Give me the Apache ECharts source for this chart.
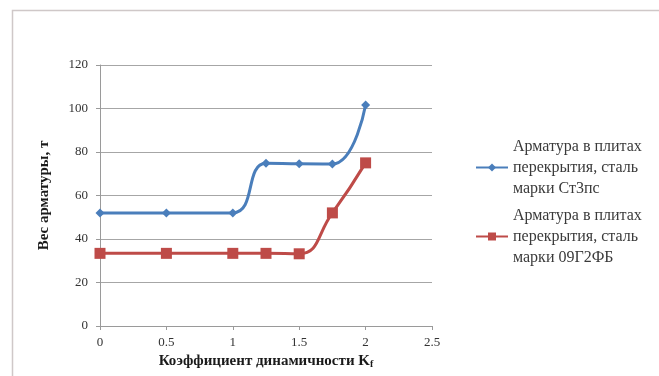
<!DOCTYPE html>
<html>
<head>
<meta charset="utf-8">
<script src="https://cdn.jsdelivr.net/npm/echarts@6/dist/echarts.min.js"></script>
<style>
html,body{margin:0;padding:0;background:#fff;}
#container{width:659px;height:376px;}
</style>
</head>
<body>
<div id="container"></div>
<script>
// коэффициент динамичности
var kf = [0, 0.5, 1, 1.25, 1.5, 1.75, 2];
// вес арматуры, т
var st3ps = [52, 52, 52, 74.8, 74.6, 74.5, 101.6];
var g2fb = [33.4, 33.4, 33.4, 33.4, 33.2, 52, 75];
var names = [
    'Арматура в плитах\nперекрытия, сталь\nмарки Ст3пс',
    'Арматура в плитах\nперекрытия, сталь\nмарки 09Г2ФБ'
];

function pairs(xs, ys) {
    var res = [];
    for (var i = 0; i < xs.length; i++) {
        res.push([xs[i], ys[i]]);
    }
    return res;
}

var dom = document.getElementById("container");
var myChart = echarts.init(dom);
var serif = '"Liberation Serif", "DejaVu Serif", serif';

var option = {
    backgroundColor: '#fff',
    animation: false,
    graphic: [{
        type: 'rect',
        left: 10, top: 8,
        shape: {width: 700, height: 400},
        style: {fill: 'none', stroke: '#cfc8c8', lineWidth: 1.5}
    }],
    grid: {left: 100, right: 227, top: 65, bottom: 50},
    legend: {
        orient: 'vertical',
        left: 470,
        top: 131,
        itemWidth: 32,
        itemHeight: 10,
        itemGap: 6,
        data: names,
        textStyle: {fontFamily: serif, fontSize: 16, color: '#3a3a3a', lineHeight: 21}
    },
    xAxis: {
        type: 'value',
        min: 0, max: 2.5, interval: 0.5,
        name: 'Коэффициент динамичности {s|K}{sub|f}',
        nameLocation: 'middle',
        nameGap: 25,
        nameTextStyle: {
            fontFamily: serif, fontSize: 15, fontWeight: 'bold', color: '#1a1a1a',
            rich: {
                s: {fontFamily: serif, fontSize: 15, fontWeight: 'bold', color: '#1a1a1a'},
                sub: {fontFamily: serif, fontSize: 10, fontWeight: 'bold', color: '#1a1a1a', verticalAlign: 'bottom', padding: [6, 0, 0, 0]}
            }
        },
        axisLine: {lineStyle: {color: '#9a9a9a'}},
        axisTick: {show: true, length: 4, lineStyle: {color: '#9a9a9a'}},
        splitLine: {show: false},
        axisLabel: {fontFamily: serif, fontSize: 13, color: '#333', margin: 10}
    },
    yAxis: {
        type: 'value',
        min: 0, max: 120, interval: 20,
        name: 'Вес арматуры, т',
        nameLocation: 'middle',
        nameGap: 48,
        nameTextStyle: {fontFamily: serif, fontSize: 15, fontWeight: 'bold', color: '#1a1a1a'},
        axisLine: {show: true, lineStyle: {color: '#9a9a9a'}},
        axisTick: {show: true, length: 4, lineStyle: {color: '#9a9a9a'}},
        splitLine: {lineStyle: {color: '#a6a6a6'}},
        axisLabel: {fontFamily: serif, fontSize: 13, color: '#333', margin: 12}
    },
    series: [
        {
            name: names[0],
            type: 'line',
            smooth: 0.5,
            data: pairs(kf, st3ps),
            symbol: 'diamond',
            symbolSize: 9,
            lineStyle: {width: 3, color: '#4a7ebb'},
            itemStyle: {color: '#4a7ebb'}
        },
        {
            name: names[1],
            type: 'line',
            smooth: 0.5,
            data: pairs(kf, g2fb),
            symbol: 'rect',
            symbolSize: 11,
            lineStyle: {width: 3, color: '#be4b48'},
            itemStyle: {color: '#be4b48'}
        }
    ]
};

if (option && typeof option === "object") {
    myChart.setOption(option, true);
}
</script>
</body>
</html>
